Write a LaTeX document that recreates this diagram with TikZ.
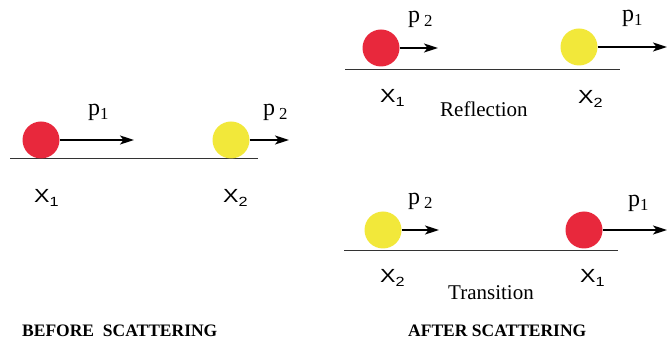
\documentclass[tikz,border=0pt]{standalone}
\usepackage{fontspec}
\setmainfont{Liberation Serif}
\newfontfamily\labelsans[FakeStretch=1.22]{Liberation Sans}
\usetikzlibrary{arrows.meta}
\definecolor{ballred}{HTML}{E8283C}
\definecolor{ballyellow}{HTML}{F2E83A}
\tikzset{
  redball/.style={circle,fill=ballred,minimum size=37pt,inner sep=0pt},
  yellowball/.style={circle,fill=ballyellow,minimum size=37pt,inner sep=0pt},
  momentum/.style={line width=1.8pt,-{Stealth[length=14pt,width=9pt,inset=3.5pt]}},
  track/.style={line width=0.8pt,draw=black!80},
  txt/.style={inner sep=0pt,anchor=base west},
  plabel/.style={txt,font=\fontsize{24}{24}\selectfont},
  xlabel/.style={txt,font=\labelsans\fontsize{19}{19}\selectfont},
  caption/.style={txt,font=\fontsize{21}{21}\selectfont},
  heading/.style={txt,font=\bfseries\fontsize{17.5}{18}\selectfont}
}
\begin{document}
\begin{tikzpicture}[x=1pt,y=-1pt]
\useasboundingbox (0,0) rectangle (667,347);

% before scattering
\coordinate (t0a) at (10,158);
\coordinate (t0b) at (258,158);
\draw[track] (t0a) -- (t0b);
\node[redball] (b1) at (41,140) {};
\node[yellowball] (b2) at (231,140) {};
\coordinate (b1tip) at (134,140);
\coordinate (b2tip) at (289,140);
\draw[momentum] (b1.east) -- (b1tip);
\draw[momentum] (b2.east) -- (b2tip);
\node[plabel] (bp1) at (88,116) {p\textsubscript{1}};
\node[plabel] (bp2) at (263,116) {p\,\textsubscript{2}};
\node[xlabel] (bx1) at (34,203) {X\textsubscript{1}};
\node[xlabel] (bx2) at (223,203) {X\textsubscript{2}};
\node[heading] (before) at (22,337) {BEFORE\ \ SCATTERING};

% after scattering: reflection
\coordinate (t1a) at (345,69);
\coordinate (t1b) at (620,69);
\draw[track] (t1a) -- (t1b);
\node[redball] (r1) at (381,48) {};
\node[yellowball] (r2) at (579,47) {};
\coordinate (r1tip) at (438,48);
\coordinate (r2tip) at (667,47);
\draw[momentum] (r1.east) -- (r1tip);
\draw[momentum] (r2.east) -- (r2tip);
\node[plabel] (rp2) at (408,23) {p\,\textsubscript{2}};
\node[plabel] (rp1) at (622,22) {p\textsubscript{1}};
\node[xlabel] (rx1) at (380,103) {X\textsubscript{1}};
\node[xlabel] (rx2) at (578,104) {X\textsubscript{2}};
\node[caption] (refl) at (440,117) {Reflection};

% after scattering: transition
\coordinate (t2a) at (344,250);
\coordinate (t2b) at (618,250);
\draw[track] (t2a) -- (t2b);
\node[yellowball] (s2) at (383,230) {};
\node[redball] (s1) at (584,230) {};
\coordinate (s2tip) at (439,230);
\coordinate (s1tip) at (667,230);
\draw[momentum] (s2.east) -- (s2tip);
\draw[momentum] (s1.east) -- (s1tip);
\node[plabel] (sp2) at (408,205) {p\,\textsubscript{2}};
\node[plabel] (sp1) at (628,207) {p\textsubscript{1}};
\node[xlabel] (sx2) at (380,283) {X\textsubscript{2}};
\node[xlabel] (sx1) at (580,283) {X\textsubscript{1}};
\node[caption] (trans) at (448,300) {Transition};
\node[heading] (after) at (408,337) {AFTER SCATTERING};
\end{tikzpicture}
\end{document}
